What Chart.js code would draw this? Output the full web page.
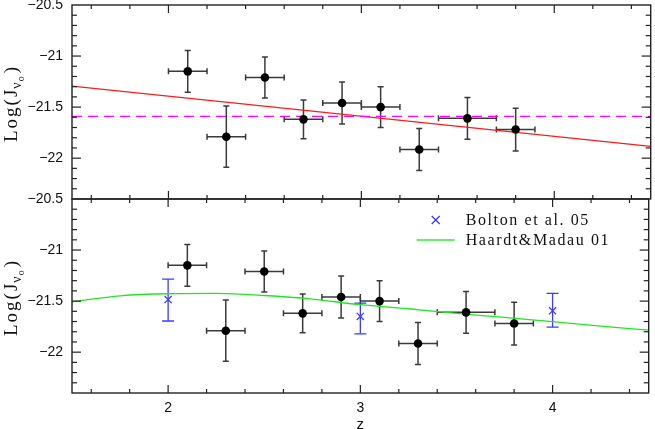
<!DOCTYPE html>
<html><head><meta charset="utf-8">
<script src="https://cdn.jsdelivr.net/npm/chart.js@4.4.1/dist/chart.umd.min.js"></script>
<style>
html,body{margin:0;padding:0;background:#fff;}
#wrap{position:relative;width:655px;height:429px;background:#fff;}
canvas{position:absolute;left:0;top:0;}
</style></head><body>
<div id="wrap"><canvas id="cTop" width="655" height="429"></canvas><canvas id="cBot" width="655" height="429"></canvas></div>
<script>
// ---- data ----
const zBin    = [2.1, 2.3, 2.5, 2.7, 2.9, 3.1, 3.3, 3.55, 3.8];
const zErr    = [0.1, 0.1, 0.1, 0.1, 0.1, 0.1, 0.1, 0.15, 0.1];
const logJ    = [-21.15, -21.79, -21.21, -21.62, -21.46, -21.50, -21.915, -21.61, -21.72];
const logJErr = [0.205, 0.30, 0.20, 0.19, 0.205, 0.20, 0.205, 0.205, 0.21];
const fitZ    = [1.5, 4.5];
const fitLogJ = [-21.294, -21.885];
const constLogJ = -21.59;
const boltonZ    = [2.0, 3.0, 4.0];
const boltonLogJ = [-21.485, -21.65, -21.595];
const boltonHi   = [0.20, 0.13, 0.17];
const boltonLo   = [0.21, 0.17, 0.16];
const hmZ    = [1.5, 1.75, 2.0, 2.25, 2.5, 2.75, 3.0, 3.25, 3.5, 3.75, 4.0, 4.25, 4.5];
const hmLogJ = [-21.507, -21.448, -21.428, -21.425, -21.445, -21.48, -21.535, -21.575, -21.62, -21.66, -21.70, -21.745, -21.785];
const xTicks = [2, 3, 4];
const yTicks = [-20.5, -21, -21.5, -22];
const legendLabels = ['Bolton et al. 05', 'Haardt&Madau 01'];
const xTitle = 'z';
const X_MIN = 1.5, X_MAX = 4.5, Y_MIN = -22.4, Y_MAX = -20.5;

const TICK_FONT = {family: "'Liberation Sans', Arial, sans-serif", size: 14};
const fmt = v => (v < 0 ? '\u2212' : '') + Math.abs(v);

const errPlugin = {
  id: 'err',
  beforeDatasetsDraw(chart, args, opts) {
    const {ctx, chartArea: a, scales: {x, y}} = chart;
    ctx.save();
    ctx.beginPath(); ctx.rect(a.left, a.top, a.right - a.left, a.bottom - a.top); ctx.clip();
    const seg = (x0, y0, x1, y1) => { ctx.beginPath(); ctx.moveTo(x0, y0); ctx.lineTo(x1, y1); ctx.stroke(); };
    ctx.strokeStyle = '#3a3a3a'; ctx.lineWidth = 1.5;
    zBin.forEach((z, i) => {
      const px = x.getPixelForValue(z), py = y.getPixelForValue(logJ[i]);
      const xl = x.getPixelForValue(z - zErr[i]), xr = x.getPixelForValue(z + zErr[i]);
      const yt = y.getPixelForValue(logJ[i] + logJErr[i]), yb = y.getPixelForValue(logJ[i] - logJErr[i]);
      seg(xl, py, xr, py); seg(xl, py - 3, xl, py + 3); seg(xr, py - 3, xr, py + 3);
      seg(px, yt, px, yb); seg(px - 3, yt, px + 3, yt); seg(px - 3, yb, px + 3, yb);
    });
    if (opts.bolton) {
      ctx.strokeStyle = '#3b3bff'; ctx.lineWidth = 1.3;
      boltonZ.forEach((z, i) => {
        const px = x.getPixelForValue(z);
        const yt = y.getPixelForValue(boltonLogJ[i] + boltonHi[i]), yb = y.getPixelForValue(boltonLogJ[i] - boltonLo[i]);
        seg(px, yt, px, yb); seg(px - 6, yt, px + 6, yt); seg(px - 6, yb, px + 6, yb);
      });
    }
    ctx.restore();
  }
};

const framePlugin = {
  id: 'frame',
  afterDraw(chart, args, opts) {
    const {ctx, chartArea: a, scales: {x, y}} = chart;
    ctx.save();
    ctx.strokeStyle = '#222'; ctx.lineWidth = 1.4;
    ctx.strokeRect(a.left, a.top, a.right - a.left, a.bottom - a.top);
    ctx.lineWidth = 1.2;
    const seg = (x0, y0, x1, y1) => { ctx.beginPath(); ctx.moveTo(x0, y0); ctx.lineTo(x1, y1); ctx.stroke(); };
    for (let k = 16; k <= 44; k += 2) {
      const px = x.getPixelForValue(k / 10);
      const L = (k % 10 === 0) ? 8 : 4;
      seg(px, a.bottom, px, a.bottom - L);
      seg(px, a.top, px, a.top + L);
    }
    for (let k = -223; k <= -206; k++) {
      const py = y.getPixelForValue(k / 10);
      const L = (k % 5 === 0) ? 9 : 5;
      seg(a.left, py, a.left + L, py);
      seg(a.right, py, a.right - L, py);
    }
    // y axis title
    const cy = (a.top + a.bottom) / 2 + 1;
    ctx.translate(17, cy);
    ctx.rotate(-Math.PI / 2);
    ctx.fillStyle = '#111';
    ctx.textBaseline = 'alphabetic';
    ctx.textAlign = 'left';
    const big = "19px 'Liberation Serif', 'Times New Roman', serif";
    const mid = "14px 'Liberation Serif', 'Times New Roman', serif";
    const sml = "10px 'Liberation Serif', 'Times New Roman', serif";
    try { ctx.letterSpacing = '2px'; } catch (e) {}
    ctx.font = big; const w1 = ctx.measureText('Log(J').width;
    ctx.font = mid; const w2 = ctx.measureText('\u03BD').width;
    ctx.font = sml; const w3 = ctx.measureText('o').width;
    ctx.font = big; const w4 = ctx.measureText(')').width;
    let sx = -(w1 + w2 + w3 + w4) / 2;
    ctx.font = big; ctx.fillText('Log(J', sx, 0); sx += w1;
    ctx.font = mid; ctx.fillText('\u03BD', sx - 1, 4); sx += w2;
    ctx.font = sml; ctx.fillText('o', sx - 2, 7); sx += w3;
    ctx.font = big; ctx.fillText(')', sx - 1, 0);
    ctx.restore();
    if (opts.legend) {
      ctx.save();
      const lx = a.right - 213, ly = a.top + 21;
      ctx.strokeStyle = '#3b3bff'; ctx.lineWidth = 1.3;
      seg(lx - 4, ly - 4, lx + 4, ly + 4); seg(lx - 4, ly + 4, lx + 4, ly - 4);
      ctx.strokeStyle = '#33ee33'; ctx.lineWidth = 1.6;
      seg(lx - 19, ly + 20, lx + 19, ly + 20);
      ctx.fillStyle = '#111';
      ctx.font = "16px 'Liberation Serif', 'Times New Roman', serif";
      try { ctx.letterSpacing = '1.6px'; } catch (e) {}
      ctx.textBaseline = 'middle'; ctx.textAlign = 'left';
      ctx.fillText(legendLabels[0], lx + 30, ly + 1);
      ctx.fillText(legendLabels[1], lx + 30, ly + 21);
      ctx.restore();
    }
  }
};

function yScale() {
  return {
    type: 'linear', min: Y_MIN, max: Y_MAX,
    grid: {display: false, drawTicks: false}, border: {display: false},
    afterBuildTicks: s => { s.ticks = yTicks.map(v => ({value: v})); },
    afterFit: s => { s.width = 72; s.paddingTop = 0; s.paddingBottom = 0; },
    ticks: {padding: 9, color: '#111', font: TICK_FONT, callback: v => fmt(v)}
  };
}

const pointsDs = () => ({
  data: zBin.map((z, i) => ({x: z, y: logJ[i]})),
  showLine: false, pointRadius: 4.3, pointBackgroundColor: '#000', pointBorderColor: '#000', pointBorderWidth: 0, order: 0
});

const common = {
  responsive: false, animation: false, devicePixelRatio: 1, events: [],
  plugins: {legend: {display: false}, tooltip: {enabled: false}}
};

new Chart(document.getElementById('cTop'), {
  type: 'scatter',
  data: {datasets: [
    pointsDs(),
    {data: fitZ.map((z, i) => ({x: z, y: fitLogJ[i]})), showLine: true, borderColor: '#ff1a1a', borderWidth: 1.2, pointRadius: 0, order: 2},
    {data: fitZ.map(z => ({x: z, y: constLogJ})), showLine: true, borderColor: '#ff00ff', borderWidth: 1.3, borderDash: [10, 6], pointRadius: 0, order: 1}
  ]},
  options: {
    ...common,
    layout: {padding: {top: 5, bottom: 230, left: 0, right: 1}},
    plugins: {...common.plugins, err: {bolton: false}, frame: {legend: false}},
    scales: {
      x: {type: 'linear', min: X_MIN, max: X_MAX, display: false},
      y: yScale()
    }
  },
  plugins: [errPlugin, framePlugin]
});

new Chart(document.getElementById('cBot'), {
  type: 'scatter',
  data: {datasets: [
    pointsDs(),
    {data: boltonZ.map((z, i) => ({x: z, y: boltonLogJ[i]})), showLine: false, pointStyle: 'crossRot', pointRadius: 5, pointBorderColor: '#3b3bff', pointBorderWidth: 1.3, order: 1},
    {data: hmZ.map((z, i) => ({x: z, y: hmLogJ[i]})), showLine: true, borderColor: '#22e622', borderWidth: 1.3, pointRadius: 0, cubicInterpolationMode: 'monotone', order: 2}
  ]},
  options: {
    ...common,
    layout: {padding: {top: 199, bottom: 0, left: 0, right: 1}},
    plugins: {...common.plugins, err: {bolton: true}, frame: {legend: true}},
    scales: {
      x: {
        type: 'linear', min: X_MIN, max: X_MAX,
        grid: {display: false, drawTicks: false}, border: {display: false},
        afterBuildTicks: s => { s.ticks = xTicks.map(v => ({value: v})); },
        afterFit: s => { s.height = 36; s.paddingLeft = 0; s.paddingRight = 0; },
        ticks: {padding: 7, color: '#111', font: TICK_FONT, maxRotation: 0, callback: v => String(v)},
        title: {display: true, text: xTitle, color: '#111', font: {family: "'Liberation Sans', Arial, sans-serif", size: 15}, padding: {top: 0, bottom: -5}}
      },
      y: yScale()
    }
  },
  plugins: [errPlugin, framePlugin]
});
</script>
</body></html>
